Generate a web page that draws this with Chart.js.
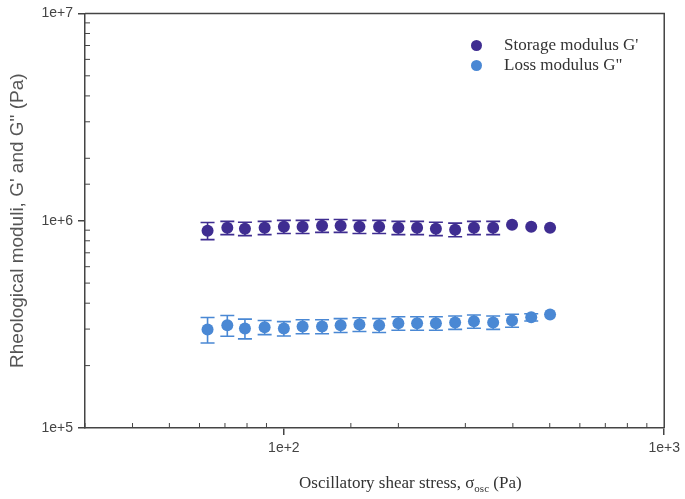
<!DOCTYPE html>
<html>
<head>
<meta charset="utf-8">
<script src="https://cdn.jsdelivr.net/npm/chart.js@4.4.1/dist/chart.umd.min.js"></script>
<style>
    body { margin: 0; background: #fff; }
    #wrap { position: relative; width: 685px; height: 499px; }
    #xTitle {
        position: absolute; left: 299px; top: 473px;
        font-family: "Liberation Serif", serif; font-size: 17px; color: #333; white-space: nowrap;
    }
    #xTitle sub { font-size: 11px; }
    .legendRow {
        position: absolute; left: 471px; height: 20px; line-height: 20px;
        font-family: "Liberation Serif", serif; font-size: 17px; color: #333; white-space: nowrap;
    }
    .legendRow span.dot {
        display: inline-block; width: 11px; height: 11px; border-radius: 50%;
        margin-right: 22px; vertical-align: -1px;
    }
</style>
</head>
<body>
<div id="wrap">
    <canvas id="chart" width="685" height="499"></canvas>
    <div id="xTitle">Oscillatory shear stress, σ<sub>osc</sub> (Pa)</div>
    <div class="legendRow" style="top:35px"><span class="dot" style="background:#3f2d91"></span>Storage modulus G'</div>
    <div class="legendRow" style="top:55px"><span class="dot" style="background:#4a88d4"></span>Loss modulus G"</div>
</div>
<script>
// oscillatory shear stress (Pa)
const stress = [63, 71, 79, 89, 100, 112, 126, 141, 158, 178, 200, 224, 251, 282, 316, 355, 398, 447, 501];

// storage modulus G' (Pa) and its error
const storageG = [895000, 925000, 915000, 925000, 936000, 936000, 946000, 946000, 936000, 936000,
    925000, 925000, 915000, 905000, 925000, 925000, 957000, 936000, 925000];
const storageErr = [85000, 68000, 68000, 68000, 68000, 68000, 68000, 68000, 68000, 68000,
    68000, 68000, 68000, 68000, 68000, 68000, 0, 0, 0];

// loss modulus G" (Pa) and its error
const lossG = [299000, 313000, 302000, 306000, 302000, 309000, 309000, 313000, 316000, 313000,
    320000, 320000, 320000, 323000, 327000, 323000, 330000, 342000, 353000];
const lossErr = [42000, 36000, 33000, 24000, 24000, 24000, 24000, 24000, 24000, 24000,
    24000, 24000, 24000, 24000, 24000, 24000, 24000, 14000, 0];

const xTickLabels = { 100: "1e+2", 1000: "1e+3" };
const yTickLabels = { 100000: "1e+5", 1000000: "1e+6", 10000000: "1e+7" };

const axisColor = "#444";

function isDecade(v) {
    const l = Math.log10(v);
    return Math.abs(l - Math.round(l)) < 1e-9;
}

// draws error bars under the points
const errorBars = {
    id: "errorBars",
    beforeDatasetsDraw(chart) {
        const ctx = chart.ctx;
        const xs = chart.scales.x, ys = chart.scales.y;
        chart.data.datasets.forEach(ds => {
            ctx.save();
            ctx.strokeStyle = ds.backgroundColor;
            ctx.lineWidth = 1.6;
            ds.data.forEach((p, j) => {
                const e = ds.errors[j];
                if (!e) return;
                const x = xs.getPixelForValue(p.x);
                const yTop = ys.getPixelForValue(p.y + e);
                const yBot = ys.getPixelForValue(p.y - e);
                ctx.beginPath();
                ctx.moveTo(x, yTop); ctx.lineTo(x, yBot);
                ctx.moveTo(x - 7, yTop); ctx.lineTo(x + 7, yTop);
                ctx.moveTo(x - 7, yBot); ctx.lineTo(x + 7, yBot);
                ctx.stroke();
            });
            ctx.restore();
        });
    }
};

// frame on top/right and inward minor ticks
const frame = {
    id: "frame",
    afterDraw(chart) {
        const ctx = chart.ctx;
        const a = chart.chartArea;
        ctx.save();
        ctx.strokeStyle = axisColor;
        ctx.lineWidth = 1.5;
        ctx.beginPath();
        ctx.moveTo(a.left, a.top); ctx.lineTo(a.right, a.top); ctx.lineTo(a.right, a.bottom);
        ctx.stroke();
        ctx.lineWidth = 1;
        ctx.beginPath();
        chart.scales.x.ticks.forEach(t => {
            if (isDecade(t.value)) return;
            const x = chart.scales.x.getPixelForValue(t.value);
            ctx.moveTo(x, a.bottom); ctx.lineTo(x, a.bottom - 5);
        });
        chart.scales.y.ticks.forEach(t => {
            if (isDecade(t.value)) return;
            const y = chart.scales.y.getPixelForValue(t.value);
            ctx.moveTo(a.left, y); ctx.lineTo(a.left + 5, y);
        });
        ctx.stroke();
        ctx.restore();
    }
};

const tickFont = { family: "Liberation Sans", size: 14 };

new Chart(document.getElementById("chart"), {
    type: "scatter",
    data: {
        datasets: [
            {
                label: "Storage modulus G'",
                data: stress.map((s, i) => ({ x: s, y: storageG[i] })),
                errors: storageErr,
                backgroundColor: "#3f2d91",
                borderWidth: 0,
                pointRadius: 6
            },
            {
                label: "Loss modulus G\"",
                data: stress.map((s, i) => ({ x: s, y: lossG[i] })),
                errors: lossErr,
                backgroundColor: "#4a88d4",
                borderWidth: 0,
                pointRadius: 6
            }
        ]
    },
    options: {
        responsive: false,
        animation: false,
        layout: { padding: { left: 0, top: 12, right: 19, bottom: 0 } },
        plugins: {
            legend: { display: false },
            tooltip: { enabled: false }
        },
        scales: {
            x: {
                type: "logarithmic",
                min: 30,
                max: 1000,
                afterFit: scale => { scale.height = 71; },
                border: { color: axisColor, width: 1.5 },
                grid: {
                    drawOnChartArea: false,
                    tickLength: 7,
                    lineWidth: 1.5,
                    tickColor: c => (c.tick && isDecade(c.tick.value) ? axisColor : "rgba(0,0,0,0)")
                },
                ticks: {
                    autoSkip: false,
                    maxRotation: 0,
                    padding: 5,
                    color: "#444",
                    font: tickFont,
                    callback: v => xTickLabels[Math.round(v)] || ""
                }
            },
            y: {
                type: "logarithmic",
                min: 100000,
                max: 10000000,
                afterFit: scale => { scale.width = 85; },
                border: { color: axisColor, width: 1.5 },
                grid: {
                    drawOnChartArea: false,
                    tickLength: 7,
                    lineWidth: 1.5,
                    tickColor: c => (c.tick && isDecade(c.tick.value) ? axisColor : "rgba(0,0,0,0)")
                },
                title: {
                    display: true,
                    text: "Rheological moduli, G' and G\" (Pa)",
                    color: "#555",
                    font: { family: "Liberation Sans", size: 19 },
                    padding: { top: 6, bottom: 0 }
                },
                ticks: {
                    autoSkip: false,
                    padding: 5,
                    color: "#444",
                    font: tickFont,
                    callback: v => yTickLabels[Math.round(v)] || ""
                }
            }
        }
    },
    plugins: [errorBars, frame]
});
</script>
</body>
</html>
